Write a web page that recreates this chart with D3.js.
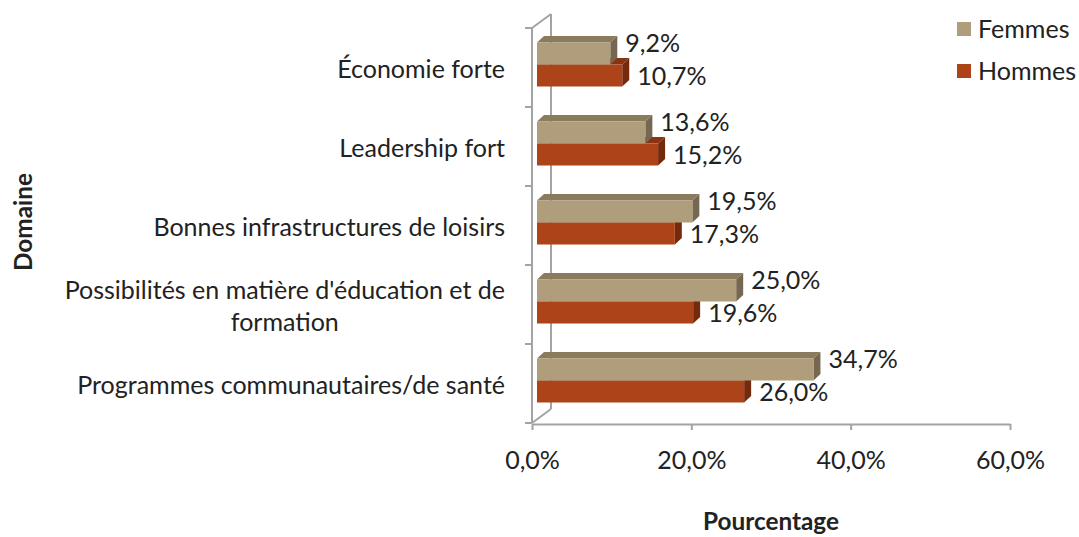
<!DOCTYPE html>
<html>
<head>
<meta charset="utf-8">
<script src="https://cdn.jsdelivr.net/npm/d3@7"></script>
<style>
  body { margin: 0; background: #fff; }
  text { font-family: Lato, "Open Sans", sans-serif; fill: #222; }
</style>
</head>
<body>
<div id="chart"></div>
<script>
// data
const categories = [
  "Économie forte",
  "Leadership fort",
  "Bonnes infrastructures de loisirs",
  "Possibilités en matière d'éducation et de formation",
  "Programmes communautaires/de santé"
];
const seriesNames = ["Femmes", "Hommes"];
const femmes = [9.2, 13.6, 19.5, 25.0, 34.7];
const hommes = [10.7, 15.2, 17.3, 19.6, 26.0];
const xTicks = [0, 20, 40, 60];

const W = 1079, H = 537;
const colors = {
  Femmes: { front: "#b09d7b", top: "#8b7b5d", side: "#766850" },
  Hommes: { front: "#ac4319", top: "#8a3312", side: "#742a0d" }
};
const lineColor = "#a3a3a3";

const svg = d3.select("#chart").append("svg")
  .attr("width", W)
  .attr("height", H);

// pick font sizes so the texts take the same room as in the picture
function fitSize(str, target, weight) {
  const t = svg.append("text").attr("font-size", 100).attr("font-weight", weight || "normal").text(str);
  const w = t.node().getComputedTextLength();
  t.remove();
  return 100 * target / w;
}
const fs = fitSize("Programmes communautaires/de santé", 428);
const fsTitle = fitSize("Pourcentage", 136, "bold");

const x = d3.scaleLinear().domain([0, 60]).range([532, 1010]);
const y = d3.scaleBand().domain(categories).range([28, 423]);
const inner = d3.scaleBand().domain(seriesNames).range([14.5, 58.5]);

const wall = { dx: 19, dy: -14 };   // back wall offset
const shift = 5;                    // bars sit a bit behind the front plane
const depth = { dx: 7, dy: -6.5 };  // bar thickness

// walls / axes
const g = svg.append("g");
g.append("line").attr("x1", x(0)).attr("x2", x(0)).attr("y1", y.range()[0]).attr("y2", y.range()[1])
  .attr("stroke", lineColor).attr("stroke-width", 2);
g.append("line").attr("x1", x(0) + wall.dx).attr("x2", x(0) + wall.dx)
  .attr("y1", y.range()[0] + wall.dy).attr("y2", y.range()[1] + wall.dy)
  .attr("stroke", lineColor).attr("stroke-width", 2);
[y.range()[0], y.range()[1]].forEach(v => {
  g.append("line").attr("x1", x(0)).attr("y1", v).attr("x2", x(0) + wall.dx).attr("y2", v + wall.dy)
    .attr("stroke", lineColor).attr("stroke-width", 2);
});
const yTickPos = categories.map(c => y(c)).concat([y.range()[1]]);
g.selectAll(".ytick").data(yTickPos).enter().append("line")
  .attr("x1", x(0) - 7).attr("x2", x(0)).attr("y1", d => d).attr("y2", d => d)
  .attr("stroke", lineColor).attr("stroke-width", 2);

const axisY = y.range()[1] + 1;
const xAxis = svg.append("g").attr("transform", `translate(0,${axisY})`)
  .call(d3.axisBottom(x).tickValues(xTicks).tickSize(6).tickSizeOuter(0)
    .tickFormat(d => d3.format(".1f")(d).replace(".", ",") + "%"));
xAxis.select(".domain").attr("stroke", lineColor).attr("stroke-width", 2);
xAxis.selectAll(".tick line").attr("stroke", lineColor).attr("stroke-width", 2);
xAxis.selectAll(".tick text").attr("font-size", fs).attr("y", 36).attr("dy", "0.35em")
  .style("fill", "#222").attr("font-family", null);

// bars
const rows = categories.map((c, i) => ({ cat: c, Femmes: femmes[i], Hommes: hommes[i] }));
const fmt = v => d3.format(".1f")(v).replace(".", ",") + "%";

const bars = svg.append("g");
rows.forEach(r => {
  // draw Hommes first so the Femmes bar covers its hidden top
  ["Hommes", "Femmes"].forEach(s => {
    const x0 = x(0) + shift, x1 = x(r[s]) + shift;
    const y0 = y(r.cat) + inner(s), y1 = y0 + inner.bandwidth();
    const c = colors[s];
    bars.append("polygon")
      .attr("points", [[x0, y0], [x0 + depth.dx, y0 + depth.dy], [x1 + depth.dx, y0 + depth.dy], [x1, y0]].join(" "))
      .attr("fill", c.top);
    bars.append("polygon")
      .attr("points", [[x1, y0], [x1 + depth.dx, y0 + depth.dy], [x1 + depth.dx, y1 + depth.dy], [x1, y1]].join(" "))
      .attr("fill", c.side);
    bars.append("rect")
      .attr("x", x0).attr("y", y0).attr("width", x1 - x0).attr("height", y1 - y0)
      .attr("fill", c.front);
  });
});

// value labels
const labels = svg.append("g");
rows.forEach(r => {
  seriesNames.forEach(s => {
    const cy = y(r.cat) + inner(s) + inner.bandwidth() / 2 + (s === "Femmes" ? -10 : 1);
    labels.append("text")
      .attr("x", x(r[s]) + shift + depth.dx + 8)
      .attr("y", cy).attr("dy", "0.35em")
      .attr("font-size", fs)
      .text(fmt(r[s]));
  });
});

// category labels, wrapped and centred as a block ending at the axis
const catG = svg.append("g");
const maxW = 470, lineH = 32, rightEdge = 505;
categories.forEach(c => {
  const t = catG.append("text").attr("font-size", fs).attr("text-anchor", "middle");
  const words = c.split(" ");
  const lines = [];
  let cur = [];
  words.forEach(w => {
    t.text(cur.concat([w]).join(" "));
    if (t.node().getComputedTextLength() > maxW && cur.length) {
      lines.push(cur.join(" "));
      cur = [w];
    } else cur.push(w);
  });
  lines.push(cur.join(" "));
  const widths = lines.map(l => { t.text(l); return t.node().getComputedTextLength(); });
  const bw = d3.max(widths);
  t.text(null);
  const cy = y(c) + y.bandwidth() / 2 + 2 - (lines.length - 1) * lineH / 2;
  lines.forEach((l, i) => {
    t.append("tspan").attr("x", rightEdge - bw / 2).attr("y", cy + i * lineH).attr("dy", "0.35em").text(l);
  });
});

// legend
const leg = svg.append("g");
seriesNames.forEach((s, i) => {
  const cy = 29 + i * 42;
  leg.append("rect").attr("x", 957).attr("y", cy - 7).attr("width", 14).attr("height", 14)
    .attr("fill", colors[s].front);
  leg.append("text").attr("x", 978).attr("y", cy).attr("dy", "0.35em")
    .attr("font-size", fs).text(s);
});

// axis titles
svg.append("text")
  .attr("x", (x(0) + x(60)) / 2).attr("y", 530)
  .attr("text-anchor", "middle").attr("font-weight", "bold").attr("font-size", fsTitle)
  .text("Pourcentage");
svg.append("text")
  .attr("transform", "translate(32,222) rotate(-90)")
  .attr("text-anchor", "middle").attr("font-weight", "bold").attr("font-size", fsTitle)
  .text("Domaine");
</script>
</body>
</html>
